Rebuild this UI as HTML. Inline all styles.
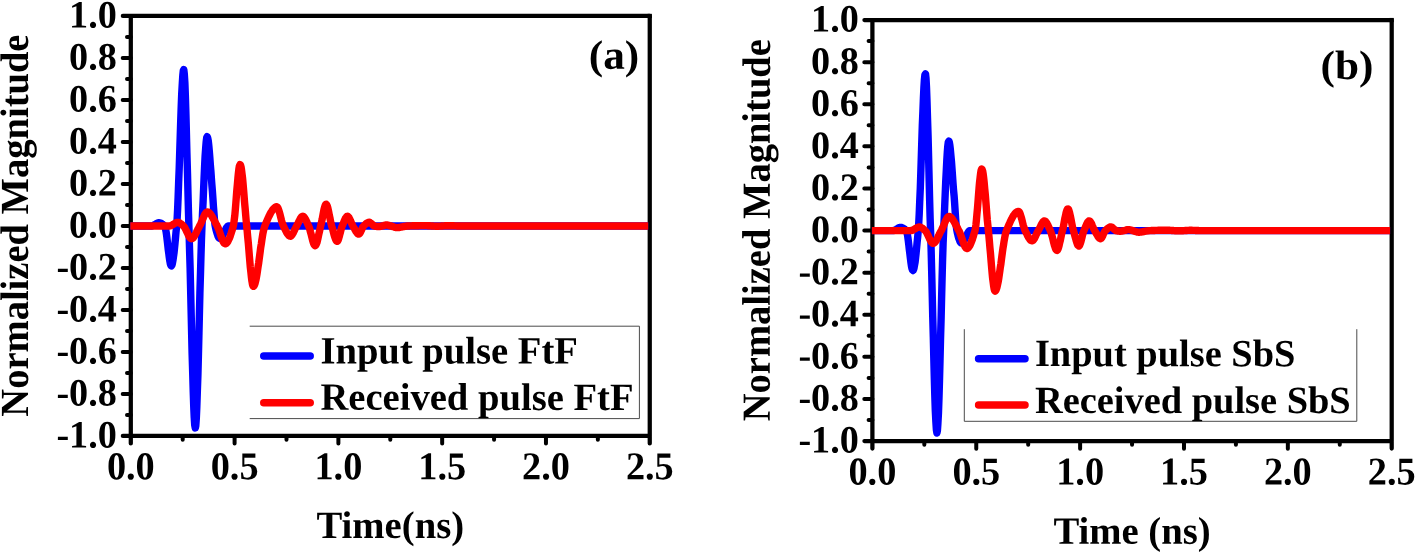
<!DOCTYPE html>
<html><head><meta charset="utf-8"><title>Pulse figure</title>
<style>html,body{margin:0;padding:0;background:#fff;}svg{display:block}</style></head>
<body>
<svg width="1416" height="555" viewBox="0 0 1416 555">
<rect width="1416" height="555" fill="#fff"/>
<path d="M130.8 15.95V443.375M122.82500000000002 435.9H649.75M122.82500000000002 15.95H649.75M649.75 15.95V443.375" stroke="#000" stroke-width="4.25" fill="none" stroke-linecap="round" stroke-linejoin="miter"/>
<rect x="647.625" y="13.825" width="4.25" height="4.25" fill="#000"/>
<path d="M122.70000000000002 57.94H130.8M122.70000000000002 99.94H130.8M122.70000000000002 141.93H130.8M122.70000000000002 183.93H130.8M122.70000000000002 225.92H130.8M122.70000000000002 267.92H130.8M122.70000000000002 309.92H130.8M122.70000000000002 351.91H130.8M122.70000000000002 393.90H130.8M127.00000000000001 36.95H130.8M127.00000000000001 78.94H130.8M127.00000000000001 120.94H130.8M127.00000000000001 162.93H130.8M127.00000000000001 204.93H130.8M127.00000000000001 246.92H130.8M127.00000000000001 288.92H130.8M127.00000000000001 330.91H130.8M127.00000000000001 372.91H130.8M127.00000000000001 414.90H130.8M234.59 435.9V443.5M338.38 435.9V443.5M442.17 435.9V443.5M545.96 435.9V443.5M182.70 435.9V439.7M286.49 435.9V439.7M390.28 435.9V439.7M494.07 435.9V439.7M597.86 435.9V439.7" stroke="#000" stroke-width="4.0" fill="none" stroke-linecap="round"/>
<text transform="translate(116.85 27.50) rotate(0.03) scale(1 1.015)" text-anchor="end" font-family="Liberation Serif, serif" font-weight="bold" font-size="38.2">1.0</text>
<text transform="translate(116.85 69.49) rotate(0.03) scale(1 1.015)" text-anchor="end" font-family="Liberation Serif, serif" font-weight="bold" font-size="38.2">0.8</text>
<text transform="translate(116.85 111.49) rotate(0.03) scale(1 1.015)" text-anchor="end" font-family="Liberation Serif, serif" font-weight="bold" font-size="38.2">0.6</text>
<text transform="translate(116.85 153.48) rotate(0.03) scale(1 1.015)" text-anchor="end" font-family="Liberation Serif, serif" font-weight="bold" font-size="38.2">0.4</text>
<text transform="translate(116.85 195.48) rotate(0.03) scale(1 1.015)" text-anchor="end" font-family="Liberation Serif, serif" font-weight="bold" font-size="38.2">0.2</text>
<text transform="translate(116.85 237.47) rotate(0.03) scale(1 1.015)" text-anchor="end" font-family="Liberation Serif, serif" font-weight="bold" font-size="38.2">0.0</text>
<text transform="translate(116.85 279.47) rotate(0.03) scale(1 1.015)" text-anchor="end" font-family="Liberation Serif, serif" font-weight="bold" font-size="38.2">-0.2</text>
<text transform="translate(116.85 321.47) rotate(0.03) scale(1 1.015)" text-anchor="end" font-family="Liberation Serif, serif" font-weight="bold" font-size="38.2">-0.4</text>
<text transform="translate(116.85 363.46) rotate(0.03) scale(1 1.015)" text-anchor="end" font-family="Liberation Serif, serif" font-weight="bold" font-size="38.2">-0.6</text>
<text transform="translate(116.85 405.45) rotate(0.03) scale(1 1.015)" text-anchor="end" font-family="Liberation Serif, serif" font-weight="bold" font-size="38.2">-0.8</text>
<text transform="translate(116.85 447.45) rotate(0.03) scale(1 1.015)" text-anchor="end" font-family="Liberation Serif, serif" font-weight="bold" font-size="38.2">-1.0</text>
<text transform="translate(130.8 479.3) rotate(0.03) scale(1 1.03)" text-anchor="middle" font-family="Liberation Serif, serif" font-weight="bold" font-size="38.3">0.0</text>
<text transform="translate(234.6 479.3) rotate(0.03) scale(1 1.03)" text-anchor="middle" font-family="Liberation Serif, serif" font-weight="bold" font-size="38.3">0.5</text>
<text transform="translate(338.4 479.3) rotate(0.03) scale(1 1.03)" text-anchor="middle" font-family="Liberation Serif, serif" font-weight="bold" font-size="38.3">1.0</text>
<text transform="translate(442.2 479.3) rotate(0.03) scale(1 1.03)" text-anchor="middle" font-family="Liberation Serif, serif" font-weight="bold" font-size="38.3">1.5</text>
<text transform="translate(546.0 479.3) rotate(0.03) scale(1 1.03)" text-anchor="middle" font-family="Liberation Serif, serif" font-weight="bold" font-size="38.3">2.0</text>
<text transform="translate(649.8 479.3) rotate(0.03) scale(1 1.03)" text-anchor="middle" font-family="Liberation Serif, serif" font-weight="bold" font-size="38.3">2.5</text>
<text transform="translate(390.3 538.0) rotate(0.03)" text-anchor="middle" font-family="Liberation Serif, serif" font-weight="bold" font-size="38.7">Time(ns)</text>
<text transform="translate(28 225.6) rotate(-89.97) scale(1 1.035)" text-anchor="middle" font-family="Liberation Serif, serif" font-weight="bold" font-size="38.55">Normalized Magnitude</text>
<text transform="translate(588.8 68.7) rotate(0.03) scale(1 0.945)" font-family="Liberation Serif, serif" font-weight="bold" font-size="43.3">(a)</text>
<path d="M249.7 326.2H639.4V418.6H249.7" fill="none" stroke="#4a4a4a" stroke-width="1"/>
<path d="M263.75 356.1H310.2" stroke="#0000ff" stroke-width="7.5" stroke-linecap="round"/>
<path d="M263.75 402.7H310.2" stroke="#ff0000" stroke-width="7.5" stroke-linecap="round"/>
<text transform="translate(320.4 363.5) rotate(0.03) scale(1 1.0)" font-family="Liberation Serif, serif" font-weight="bold" font-size="38.62">Input pulse FtF</text>
<text transform="translate(320.4 409.8) rotate(0.03) scale(1 1.0)" font-family="Liberation Serif, serif" font-weight="bold" font-size="38.62">Received pulse FtF</text>
<path d="M130.3 226.0L130.8 226.0L131.3 226.0L131.9 226.0L132.4 226.0L132.9 226.0L133.4 226.0L133.9 226.0L134.5 226.0L135.0 226.0L135.5 226.0L136.0 226.0L136.5 226.0L137.1 226.0L137.6 226.0L138.1 226.0L138.6 226.0L139.1 226.0L139.7 226.0L140.2 226.0L140.7 226.0L141.2 226.0L141.7 226.0L142.3 226.0L142.8 226.0L143.3 226.0L143.8 226.0L144.3 226.0L144.9 226.0L145.4 226.0L145.9 226.0L146.4 226.0L146.9 226.0L147.4 226.0L148.0 226.0L148.5 226.0L149.0 226.0L149.5 226.0L150.0 226.0L150.6 226.0L151.1 226.0L151.6 226.0L152.1 225.9L152.6 225.7L153.2 225.5L153.7 225.3L154.2 225.0L154.7 224.6L155.2 224.3L155.8 224.0L156.3 223.7L156.8 223.4L157.3 223.2L157.8 223.0L158.4 222.8L158.9 222.8L159.4 222.8L159.9 222.9L160.4 223.1L161.0 223.3L161.5 223.5L162.0 223.8L162.5 224.2L163.0 224.6L163.6 225.0L164.1 225.5L164.6 226.0L165.1 227.1L165.6 229.3L166.2 232.4L166.7 236.1L167.2 240.3L167.7 244.7L168.2 249.2L168.8 253.6L169.3 257.5L169.8 260.9L170.3 263.6L170.8 265.3L171.4 265.8L171.9 265.1L172.4 263.4L172.9 260.7L173.4 257.3L174.0 253.1L174.5 248.4L175.0 243.3L175.5 237.9L176.0 232.2L176.6 226.5L177.1 219.5L177.6 209.7L178.1 197.5L178.6 183.6L179.2 168.4L179.7 152.7L180.2 136.8L180.7 121.4L181.2 107.0L181.7 94.1L182.3 83.4L182.8 75.4L183.3 70.6L183.8 69.6L184.3 73.9L184.9 83.3L185.4 96.8L185.9 113.5L186.4 132.5L186.9 152.8L187.5 173.7L188.0 194.0L188.5 213.0L189.0 229.9L189.5 247.8L190.1 267.6L190.6 288.7L191.1 310.5L191.6 332.2L192.1 353.3L192.7 373.0L193.2 390.6L193.7 405.6L194.2 417.3L194.7 424.9L195.3 427.9L195.8 425.6L196.3 418.5L196.8 407.3L197.3 392.6L197.9 375.3L198.4 355.9L198.9 335.3L199.4 314.2L199.9 293.2L200.5 273.2L201.0 254.8L201.5 238.7L202.0 225.6L202.5 213.8L203.1 201.6L203.6 189.2L204.1 177.2L204.6 166.1L205.1 156.1L205.7 147.7L206.2 141.5L206.7 137.7L207.2 136.7L207.7 138.1L208.3 141.1L208.8 145.6L209.3 151.1L209.8 157.4L210.3 164.3L210.9 171.4L211.4 178.4L211.9 185.1L212.4 191.3L212.9 198.2L213.4 206.0L214.0 213.6L214.5 220.2L215.0 224.9L215.5 227.5L216.0 229.6L216.6 231.6L217.1 233.4L217.6 235.0L218.1 236.3L218.6 237.3L219.2 238.0L219.7 238.4L220.2 238.5L220.7 238.2L221.2 237.8L221.8 237.1L222.3 236.3L222.8 235.3L223.3 234.3L223.8 233.1L224.4 232.0L224.9 230.9L225.4 229.8L225.9 228.8L226.4 227.8L227.0 227.1L227.5 226.5L228.0 226.1L228.5 226.0L229.0 226.0L229.6 226.0L230.1 226.0L230.6 226.0L231.1 226.0L231.6 226.0L232.2 226.0L232.7 226.0L233.2 226.0L233.7 226.0L234.2 226.0L234.8 226.0L235.3 226.0L235.8 226.0L236.3 226.0L236.8 226.0L237.4 226.0L237.9 226.0L238.4 226.0L238.9 226.0L239.4 226.0L240.0 226.0L240.5 226.0L241.0 226.0L241.5 226.0L242.0 226.0L242.6 226.0L243.1 226.0L243.6 226.0L244.1 226.0L244.6 226.0L245.2 226.0L245.7 226.0L246.2 226.0L246.7 226.0L247.2 226.0L247.7 226.0L248.3 226.0L248.8 226.0L249.3 226.0L249.8 226.0L250.3 226.0L250.9 226.0L251.4 226.0L251.9 226.0L252.4 226.0L252.9 226.0L253.5 226.0L254.0 226.0L254.5 226.0L255.0 226.0L255.5 226.0L256.1 226.0L256.6 226.0L257.1 226.0L257.6 226.0L258.1 226.0L258.7 226.0L259.2 226.0L259.7 226.0L260.2 226.0L260.7 226.0L261.3 226.0L261.8 226.0L262.3 226.0L262.8 226.0L263.3 226.0L263.9 226.0L264.4 226.0L264.9 226.0L265.4 226.0L265.9 226.0L266.5 226.0L267.0 226.0L267.5 226.0L268.0 226.0L268.5 226.0L269.1 226.0L269.6 226.0L270.1 226.0L270.6 226.0L271.1 226.0L271.7 226.0L272.2 226.0L272.7 226.0L273.2 226.0L273.7 226.0L274.3 226.0L274.8 226.0L275.3 226.0L275.8 226.0L276.3 226.0L276.9 226.0L277.4 226.0L277.9 226.0L278.4 226.0L278.9 226.0L279.4 226.0L280.0 226.0L280.5 226.0L281.0 226.0L281.5 226.0L282.0 226.0L282.6 226.0L283.1 226.0L283.6 226.0L284.1 226.0L284.6 226.0L285.2 226.0L285.7 226.0L286.2 226.0L286.7 226.0L287.2 226.0L287.8 226.0L288.3 226.0L288.8 226.0L289.3 226.0L289.8 226.0L290.4 226.0L290.9 226.0L291.4 226.0L291.9 226.0L292.4 226.0L293.0 226.0L293.5 226.0L294.0 226.0L294.5 226.0L295.0 226.0L295.6 226.0L296.1 226.0L296.6 226.0L297.1 226.0L297.6 226.0L298.2 226.0L298.7 226.0L299.2 226.0L299.7 226.0L300.2 226.0L300.8 226.0L301.3 226.0L301.8 226.0L302.3 226.0L302.8 226.0L303.4 226.0L303.9 226.0L304.4 226.0L304.9 226.0L305.4 226.0L306.0 226.0L306.5 226.0L307.0 226.0L307.5 226.0L308.0 226.0L308.6 226.0L309.1 226.0L309.6 226.0L310.1 226.0L310.6 226.0L311.2 226.0L311.7 226.0L312.2 226.0L312.7 226.0L313.2 226.0L313.7 226.0L314.3 226.0L314.8 226.0L315.3 226.0L315.8 226.0L316.3 226.0L316.9 226.0L317.4 226.0L317.9 226.0L318.4 226.0L318.9 226.0L319.5 226.0L320.0 226.0L320.5 226.0L321.0 226.0L321.5 226.0L322.1 226.0L322.6 226.0L323.1 226.0L323.6 226.0L324.1 226.0L324.7 226.0L325.2 226.0L325.7 226.0L326.2 226.0L326.7 226.0L327.3 226.0L327.8 226.0L328.3 226.0L328.8 226.0L329.3 226.0L329.9 226.0L330.4 226.0L330.9 226.0L331.4 226.0L331.9 226.0L332.5 226.0L333.0 226.0L333.5 226.0L334.0 226.0L334.5 226.0L335.1 226.0L335.6 226.0L336.1 226.0L336.6 226.0L337.1 226.0L337.7 226.0L338.2 226.0L338.7 226.0L339.2 226.0L339.7 226.0L340.3 226.0L340.8 226.0L341.3 226.0L341.8 226.0L342.3 226.0L342.9 226.0L343.4 226.0L343.9 226.0L344.4 226.0L344.9 226.0L345.4 226.0L346.0 226.0L346.5 226.0L347.0 226.0L347.5 226.0L348.0 226.0L348.6 226.0L349.1 226.0L349.6 226.0L350.1 226.0L350.6 226.0L351.2 226.0L351.7 226.0L352.2 226.0L352.7 226.0L353.2 226.0L353.8 226.0L354.3 226.0L354.8 226.0L355.3 226.0L355.8 226.0L356.4 226.0L356.9 226.0L357.4 226.0L357.9 226.0L358.4 226.0L359.0 226.0L359.5 226.0L360.0 226.0L360.5 226.0L361.0 226.0L361.6 226.0L362.1 226.0L362.6 226.0L363.1 226.0L363.6 226.0L364.2 226.0L364.7 226.0L365.2 226.0L365.7 226.0L366.2 226.0L366.8 226.0L367.3 226.0L367.8 226.0L368.3 226.0L368.8 226.0L369.4 226.0L369.9 226.0L370.4 226.0L370.9 226.0L371.4 226.0L372.0 226.0L372.5 226.0L373.0 226.0L373.5 226.0L374.0 226.0L374.6 226.0L375.1 226.0L375.6 226.0L376.1 226.0L376.6 226.0L377.2 226.0L377.7 226.0L378.2 226.0L378.7 226.0L379.2 226.0L379.7 226.0L380.3 226.0L380.8 226.0L381.3 226.0L381.8 226.0L382.3 226.0L382.9 226.0L383.4 226.0L383.9 226.0L384.4 226.0L384.9 226.0L385.5 226.0L386.0 226.0L386.5 226.0L387.0 226.0L387.5 226.0L388.1 226.0L388.6 226.0L389.1 226.0L389.6 226.0L390.1 226.0L390.7 226.0L391.2 226.0L391.7 226.0L392.2 226.0L392.7 226.0L393.3 226.0L393.8 226.0L394.3 226.0L394.8 226.0L395.3 226.0L395.9 226.0L396.4 226.0L396.9 226.0L397.4 226.0L397.9 226.0L398.5 226.0L399.0 226.0L399.5 226.0L400.0 226.0L400.5 226.0L401.1 226.0L401.6 226.0L402.1 226.0L402.6 226.0L403.1 226.0L403.7 226.0L404.2 226.0L404.7 226.0L405.2 226.0L405.7 226.0L406.3 226.0L406.8 226.0L407.3 226.0L407.8 226.0L408.3 226.0L408.9 226.0L409.4 226.0L409.9 226.0L410.4 226.0L410.9 226.0L411.4 226.0L412.0 226.0L412.5 226.0L413.0 226.0L413.5 226.0L414.0 226.0L414.6 226.0L415.1 226.0L415.6 226.0L416.1 226.0L416.6 226.0L417.2 226.0L417.7 226.0L418.2 226.0L418.7 226.0L419.2 226.0L419.8 226.0L420.3 226.0L420.8 226.0L421.3 226.0L421.8 226.0L422.4 226.0L422.9 226.0L423.4 226.0L423.9 226.0L424.4 226.0L425.0 226.0L425.5 226.0L426.0 226.0L426.5 226.0L427.0 226.0L427.6 226.0L428.1 226.0L428.6 226.0L429.1 226.0L429.6 226.0L430.2 226.0L430.7 226.0L431.2 226.0L431.7 226.0L432.2 226.0L432.8 226.0L433.3 226.0L433.8 226.0L434.3 226.0L434.8 226.0L435.4 226.0L435.9 226.0L436.4 226.0L436.9 226.0L437.4 226.0L438.0 226.0L438.5 226.0L439.0 226.0L439.5 226.0L440.0 226.0L440.6 226.0L441.1 226.0L441.6 226.0L442.1 226.0L442.6 226.0L443.2 226.0L443.7 226.0L444.2 226.0L444.7 226.0L445.2 226.0L445.7 226.0L446.3 226.0L446.8 226.0L447.3 226.0L447.8 226.0L448.3 226.0L448.9 226.0L449.4 226.0L449.9 226.0L450.4 226.0L450.9 226.0L451.5 226.0L452.0 226.0L452.5 226.0L453.0 226.0L453.5 226.0L454.1 226.0L454.6 226.0L455.1 226.0L455.6 226.0L456.1 226.0L456.7 226.0L457.2 226.0L457.7 226.0L458.2 226.0L458.7 226.0L459.3 226.0L459.8 226.0L460.3 226.0L460.8 226.0L461.3 226.0L461.9 226.0L462.4 226.0L462.9 226.0L463.4 226.0L463.9 226.0L464.5 226.0L465.0 226.0L465.5 226.0L466.0 226.0L466.5 226.0L467.1 226.0L467.6 226.0L468.1 226.0L468.6 226.0L469.1 226.0L469.7 226.0L470.2 226.0L470.7 226.0L471.2 226.0L471.7 226.0L472.3 226.0L472.8 226.0L473.3 226.0L473.8 226.0L474.3 226.0L474.9 226.0L475.4 226.0L475.9 226.0L476.4 226.0L476.9 226.0L477.4 226.0L478.0 226.0L478.5 226.0L479.0 226.0L479.5 226.0L480.0 226.0L480.6 226.0L481.1 226.0L481.6 226.0L482.1 226.0L482.6 226.0L483.2 226.0L483.7 226.0L648.2 226.0" fill="none" stroke="#0000ff" stroke-width="7.4" stroke-linejoin="round" stroke-linecap="butt"/>
<path d="M130.3 226.0L130.8 226.0L131.3 226.0L131.9 226.0L132.4 226.0L132.9 226.0L133.4 226.0L133.9 226.0L134.5 226.0L135.0 226.0L135.5 226.0L136.0 226.0L136.5 226.0L137.1 226.0L137.6 226.0L138.1 226.0L138.6 226.0L139.1 226.0L139.7 226.0L140.2 226.0L140.7 226.0L141.2 226.0L141.7 226.0L142.3 226.0L142.8 226.0L143.3 226.0L143.8 226.0L144.3 226.0L144.9 226.0L145.4 226.0L145.9 226.0L146.4 226.0L146.9 226.0L147.4 226.0L148.0 226.0L148.5 226.0L149.0 226.0L149.5 226.0L150.0 226.0L150.6 226.0L151.1 226.0L151.6 226.0L152.1 226.0L152.6 226.0L153.2 226.0L153.7 226.0L154.2 226.0L154.7 226.0L155.2 226.0L155.8 226.0L156.3 226.0L156.8 226.0L157.3 226.0L157.8 226.0L158.4 226.0L158.9 226.0L159.4 226.0L159.9 226.0L160.4 226.0L161.0 226.0L161.5 226.0L162.0 226.0L162.5 226.0L163.0 226.0L163.6 226.0L164.1 226.0L164.6 226.0L165.1 226.0L165.6 226.0L166.2 226.0L166.7 226.0L167.2 226.0L167.7 226.0L168.2 226.0L168.8 226.0L169.3 226.0L169.8 225.9L170.3 225.8L170.8 225.6L171.4 225.4L171.9 225.1L172.4 224.8L172.9 224.5L173.4 224.2L174.0 223.9L174.5 223.6L175.0 223.3L175.5 223.0L176.0 222.8L176.6 222.6L177.1 222.5L177.6 222.4L178.1 222.4L178.6 222.5L179.2 222.7L179.7 222.9L180.2 223.3L180.7 223.6L181.2 224.0L181.7 224.4L182.3 224.9L182.8 225.4L183.3 225.8L183.8 226.3L184.3 227.0L184.9 227.8L185.4 228.8L185.9 229.8L186.4 230.9L186.9 232.0L187.5 233.2L188.0 234.3L188.5 235.3L189.0 236.3L189.5 237.1L190.1 237.8L190.6 238.3L191.1 238.6L191.6 238.7L192.1 238.6L192.7 238.2L193.2 237.8L193.7 237.1L194.2 236.4L194.7 235.5L195.3 234.6L195.8 233.6L196.3 232.6L196.8 231.5L197.3 230.4L197.9 229.3L198.4 228.3L198.9 227.3L199.4 226.3L199.9 225.4L200.5 224.4L201.0 223.2L201.5 222.0L202.0 220.8L202.5 219.5L203.1 218.3L203.6 217.0L204.1 215.9L204.6 214.8L205.1 213.9L205.7 213.1L206.2 212.5L206.7 212.1L207.2 211.9L207.7 211.9L208.3 212.1L208.8 212.4L209.3 212.8L209.8 213.3L210.3 213.9L210.9 214.6L211.4 215.4L211.9 216.2L212.4 217.1L212.9 218.0L213.4 218.9L214.0 219.9L214.5 220.9L215.0 221.9L215.5 222.9L216.0 223.9L216.6 224.9L217.1 225.8L217.6 226.8L218.1 227.9L218.6 229.2L219.2 230.7L219.7 232.2L220.2 233.7L220.7 235.3L221.2 236.8L221.8 238.2L222.3 239.6L222.8 240.8L223.3 241.9L223.8 242.8L224.4 243.4L224.9 243.7L225.4 243.8L225.9 243.6L226.4 243.3L227.0 242.7L227.5 242.0L228.0 241.2L228.5 240.2L229.0 239.0L229.6 237.8L230.1 236.4L230.6 234.9L231.1 233.4L231.6 231.7L232.2 230.0L232.7 228.2L233.2 226.4L233.7 224.0L234.2 220.3L234.8 215.5L235.3 209.9L235.8 203.7L236.3 197.1L236.8 190.5L237.4 184.2L237.9 178.3L238.4 173.1L238.9 168.9L239.4 166.0L240.0 164.7L240.5 165.0L241.0 166.7L241.5 169.7L242.0 173.6L242.6 178.5L243.1 184.0L243.6 190.0L244.1 196.3L244.6 202.8L245.2 209.1L245.7 215.3L246.2 221.0L246.7 226.1L247.2 231.2L247.7 236.8L248.3 242.8L248.8 249.0L249.3 255.2L249.8 261.3L250.3 267.1L250.9 272.4L251.4 277.1L251.9 281.0L252.4 284.0L252.9 285.8L253.5 286.3L254.0 285.9L254.5 284.9L255.0 283.5L255.5 281.5L256.1 279.1L256.6 276.4L257.1 273.3L257.6 270.0L258.1 266.5L258.7 262.8L259.2 259.1L259.7 255.2L260.2 251.4L260.7 247.6L261.3 244.0L261.8 240.5L262.3 237.2L262.8 234.2L263.3 231.5L263.9 229.1L264.4 227.2L264.9 225.8L265.4 224.5L265.9 223.2L266.5 222.0L267.0 220.7L267.5 219.5L268.0 218.3L268.5 217.2L269.1 216.1L269.6 215.0L270.1 214.0L270.6 213.0L271.1 212.1L271.7 211.3L272.2 210.5L272.7 209.7L273.2 209.1L273.7 208.5L274.3 208.0L274.8 207.6L275.3 207.2L275.8 207.0L276.3 206.8L276.9 206.8L277.4 207.1L277.9 207.9L278.4 209.1L278.9 210.6L279.4 212.3L280.0 214.3L280.5 216.3L281.0 218.4L281.5 220.4L282.0 222.2L282.6 223.9L283.1 225.3L283.6 226.4L284.1 227.5L284.6 228.5L285.2 229.6L285.7 230.6L286.2 231.6L286.7 232.6L287.2 233.5L287.8 234.2L288.3 234.9L288.8 235.5L289.3 235.9L289.8 236.1L290.4 236.2L290.9 236.0L291.4 235.6L291.9 235.0L292.4 234.2L293.0 233.3L293.5 232.3L294.0 231.2L294.5 230.1L295.0 229.0L295.6 227.9L296.1 226.9L296.6 226.0L297.1 225.1L297.6 224.1L298.2 223.0L298.7 221.9L299.2 220.8L299.7 219.8L300.2 218.8L300.8 217.9L301.3 217.2L301.8 216.7L302.3 216.4L302.8 216.3L303.4 216.5L303.9 216.9L304.4 217.5L304.9 218.3L305.4 219.2L306.0 220.2L306.5 221.3L307.0 222.4L307.5 223.6L308.0 224.8L308.6 225.9L309.1 227.1L309.6 228.7L310.1 230.5L310.6 232.5L311.2 234.6L311.7 236.7L312.2 238.7L312.7 240.6L313.2 242.3L313.7 243.8L314.3 244.9L314.8 245.5L315.3 245.7L315.8 245.2L316.3 244.2L316.9 242.7L317.4 240.8L317.9 238.6L318.4 236.3L318.9 233.8L319.5 231.3L320.0 229.0L320.5 226.8L321.0 224.7L321.5 222.3L322.1 219.7L322.6 216.9L323.1 214.1L323.6 211.5L324.1 209.1L324.7 207.0L325.2 205.5L325.7 204.5L326.2 204.3L326.7 204.9L327.3 206.1L327.8 207.8L328.3 210.0L328.8 212.5L329.3 215.1L329.9 217.8L330.4 220.4L330.9 222.9L331.4 225.0L331.9 226.8L332.5 228.6L333.0 230.6L333.5 232.6L334.0 234.5L334.5 236.3L335.1 238.0L335.6 239.3L336.1 240.4L336.6 241.1L337.1 241.3L337.7 240.9L338.2 240.0L338.7 238.5L339.2 236.8L339.7 234.8L340.3 232.7L340.8 230.6L341.3 228.7L341.8 227.0L342.3 225.7L342.9 224.5L343.4 223.2L343.9 221.9L344.4 220.6L344.9 219.5L345.4 218.4L346.0 217.5L346.5 216.9L347.0 216.4L347.5 216.3L348.0 216.5L348.6 217.0L349.1 217.8L349.6 218.8L350.1 219.9L350.6 221.1L351.2 222.4L351.7 223.6L352.2 224.7L352.7 225.7L353.2 226.6L353.8 227.5L354.3 228.4L354.8 229.3L355.3 230.3L355.8 231.2L356.4 232.0L356.9 232.7L357.4 233.3L357.9 233.8L358.4 234.0L359.0 234.1L359.5 233.7L360.0 233.1L360.5 232.1L361.0 231.0L361.6 229.8L362.1 228.6L362.6 227.5L363.1 226.6L363.6 226.0L364.2 225.5L364.7 225.0L365.2 224.5L365.7 224.0L366.2 223.6L366.8 223.2L367.3 222.9L367.8 222.6L368.3 222.4L368.8 222.3L369.4 222.3L369.9 222.5L370.4 222.8L370.9 223.2L371.4 223.6L372.0 224.1L372.5 224.6L373.0 225.1L373.5 225.5L374.0 225.8L374.6 226.0L375.1 226.1L375.6 226.3L376.1 226.4L376.6 226.4L377.2 226.5L377.7 226.6L378.2 226.6L378.7 226.6L379.2 226.5L379.7 226.5L380.3 226.4L380.8 226.3L381.3 226.1L381.8 226.0L382.3 225.9L382.9 225.8L383.4 225.6L383.9 225.5L384.4 225.3L384.9 225.2L385.5 225.1L386.0 225.0L386.5 225.0L387.0 225.0L387.5 225.1L388.1 225.2L388.6 225.3L389.1 225.5L389.6 225.6L390.1 225.8L390.7 225.9L391.2 226.0L391.7 226.2L392.2 226.4L392.7 226.6L393.3 226.7L393.8 226.9L394.3 227.1L394.8 227.3L395.3 227.4L395.9 227.5L396.4 227.6L396.9 227.6L397.4 227.6L397.9 227.6L398.5 227.5L399.0 227.5L399.5 227.4L400.0 227.3L400.5 227.2L401.1 227.1L401.6 227.0L402.1 226.9L402.6 226.8L403.1 226.7L403.7 226.6L404.2 226.5L404.7 226.4L405.2 226.3L405.7 226.2L406.3 226.2L406.8 226.1L407.3 226.0L407.8 226.0L408.3 226.0L408.9 226.0L409.4 225.9L409.9 225.9L410.4 225.9L410.9 225.9L411.4 225.9L412.0 225.8L412.5 225.8L413.0 225.8L413.5 225.8L414.0 225.8L414.6 225.8L415.1 225.7L415.6 225.7L416.1 225.7L416.6 225.7L417.2 225.7L417.7 225.7L418.2 225.7L418.7 225.7L419.2 225.7L419.8 225.6L420.3 225.6L420.8 225.6L421.3 225.6L421.8 225.6L422.4 225.6L422.9 225.6L423.4 225.6L423.9 225.6L424.4 225.6L425.0 225.6L425.5 225.6L426.0 225.6L426.5 225.6L427.0 225.6L427.6 225.7L428.1 225.7L428.6 225.7L429.1 225.8L429.6 225.8L430.2 225.8L430.7 225.9L431.2 225.9L431.7 226.0L432.2 226.0L432.8 226.0L433.3 226.1L433.8 226.1L434.3 226.1L434.8 226.1L435.4 226.2L435.9 226.2L436.4 226.2L436.9 226.2L437.4 226.2L438.0 226.2L438.5 226.2L439.0 226.2L439.5 226.1L440.0 226.1L440.6 226.1L441.1 226.1L441.6 226.0L442.1 226.0L442.6 226.0L443.2 225.9L443.7 225.9L444.2 225.9L444.7 225.8L445.2 225.8L445.7 225.8L446.3 225.8L446.8 225.7L447.3 225.7L447.8 225.7L448.3 225.7L448.9 225.7L449.4 225.7L449.9 225.7L450.4 225.7L450.9 225.7L451.5 225.7L452.0 225.8L452.5 225.8L453.0 225.8L453.5 225.8L454.1 225.8L454.6 225.9L455.1 225.9L455.6 225.9L456.1 225.9L456.7 225.9L457.2 226.0L457.7 226.0L458.2 226.0L458.7 226.0L459.3 226.0L459.8 226.0L460.3 226.0L460.8 226.0L461.3 226.0L461.9 226.0L462.4 226.0L462.9 226.0L463.4 226.0L463.9 226.0L464.5 226.0L465.0 226.0L465.5 226.0L466.0 226.0L466.5 226.0L467.1 226.0L467.6 226.0L468.1 226.0L468.6 226.0L469.1 226.0L469.7 226.0L470.2 226.0L470.7 226.0L471.2 226.0L471.7 226.0L472.3 226.0L472.8 226.0L473.3 226.0L473.8 226.0L474.3 226.0L474.9 226.0L475.4 226.0L475.9 226.0L476.4 226.0L476.9 226.0L477.4 226.0L478.0 226.0L478.5 226.0L479.0 226.0L479.5 226.0L480.0 226.0L480.6 226.0L481.1 226.0L481.6 226.0L482.1 226.0L482.6 226.0L483.2 226.0L483.7 226.0L648.2 226.0" fill="none" stroke="#ff0000" stroke-width="7.4" stroke-linejoin="round" stroke-linecap="butt"/>
<path d="M872.4 20.05V448.52500000000003M864.425 441.05H1391.7M864.425 20.05H1391.7M1391.7 20.05V448.52500000000003" stroke="#000" stroke-width="4.25" fill="none" stroke-linecap="round" stroke-linejoin="miter"/>
<rect x="1389.575" y="17.925" width="4.25" height="4.25" fill="#000"/>
<path d="M864.3 62.15H872.4M864.3 104.25H872.4M864.3 146.35H872.4M864.3 188.45H872.4M864.3 230.55H872.4M864.3 272.65H872.4M864.3 314.75H872.4M864.3 356.85H872.4M864.3 398.95H872.4M868.6 41.10H872.4M868.6 83.20H872.4M868.6 125.30H872.4M868.6 167.40H872.4M868.6 209.50H872.4M868.6 251.60H872.4M868.6 293.70H872.4M868.6 335.80H872.4M868.6 377.90H872.4M868.6 420.00H872.4M976.26 441.05V448.65000000000003M1080.12 441.05V448.65000000000003M1183.98 441.05V448.65000000000003M1287.84 441.05V448.65000000000003M924.33 441.05V444.85M1028.19 441.05V444.85M1132.05 441.05V444.85M1235.91 441.05V444.85M1339.77 441.05V444.85" stroke="#000" stroke-width="4.0" fill="none" stroke-linecap="round"/>
<text transform="translate(858.85 31.60) rotate(0.03) scale(1 1.015)" text-anchor="end" font-family="Liberation Serif, serif" font-weight="bold" font-size="38.2">1.0</text>
<text transform="translate(858.85 73.70) rotate(0.03) scale(1 1.015)" text-anchor="end" font-family="Liberation Serif, serif" font-weight="bold" font-size="38.2">0.8</text>
<text transform="translate(858.85 115.80) rotate(0.03) scale(1 1.015)" text-anchor="end" font-family="Liberation Serif, serif" font-weight="bold" font-size="38.2">0.6</text>
<text transform="translate(858.85 157.90) rotate(0.03) scale(1 1.015)" text-anchor="end" font-family="Liberation Serif, serif" font-weight="bold" font-size="38.2">0.4</text>
<text transform="translate(858.85 200.00) rotate(0.03) scale(1 1.015)" text-anchor="end" font-family="Liberation Serif, serif" font-weight="bold" font-size="38.2">0.2</text>
<text transform="translate(858.85 242.10) rotate(0.03) scale(1 1.015)" text-anchor="end" font-family="Liberation Serif, serif" font-weight="bold" font-size="38.2">0.0</text>
<text transform="translate(858.85 284.20) rotate(0.03) scale(1 1.015)" text-anchor="end" font-family="Liberation Serif, serif" font-weight="bold" font-size="38.2">-0.2</text>
<text transform="translate(858.85 326.30) rotate(0.03) scale(1 1.015)" text-anchor="end" font-family="Liberation Serif, serif" font-weight="bold" font-size="38.2">-0.4</text>
<text transform="translate(858.85 368.40) rotate(0.03) scale(1 1.015)" text-anchor="end" font-family="Liberation Serif, serif" font-weight="bold" font-size="38.2">-0.6</text>
<text transform="translate(858.85 410.50) rotate(0.03) scale(1 1.015)" text-anchor="end" font-family="Liberation Serif, serif" font-weight="bold" font-size="38.2">-0.8</text>
<text transform="translate(858.85 452.60) rotate(0.03) scale(1 1.015)" text-anchor="end" font-family="Liberation Serif, serif" font-weight="bold" font-size="38.2">-1.0</text>
<text transform="translate(872.4 484.6) rotate(0.03) scale(1 1.03)" text-anchor="middle" font-family="Liberation Serif, serif" font-weight="bold" font-size="38.3">0.0</text>
<text transform="translate(976.3 484.6) rotate(0.03) scale(1 1.03)" text-anchor="middle" font-family="Liberation Serif, serif" font-weight="bold" font-size="38.3">0.5</text>
<text transform="translate(1080.1 484.6) rotate(0.03) scale(1 1.03)" text-anchor="middle" font-family="Liberation Serif, serif" font-weight="bold" font-size="38.3">1.0</text>
<text transform="translate(1184.0 484.6) rotate(0.03) scale(1 1.03)" text-anchor="middle" font-family="Liberation Serif, serif" font-weight="bold" font-size="38.3">1.5</text>
<text transform="translate(1287.8 484.6) rotate(0.03) scale(1 1.03)" text-anchor="middle" font-family="Liberation Serif, serif" font-weight="bold" font-size="38.3">2.0</text>
<text transform="translate(1391.7 484.6) rotate(0.03) scale(1 1.03)" text-anchor="middle" font-family="Liberation Serif, serif" font-weight="bold" font-size="38.3">2.5</text>
<text transform="translate(1132.0 543.8) rotate(0.03)" text-anchor="middle" font-family="Liberation Serif, serif" font-weight="bold" font-size="38.7">Time (ns)</text>
<text transform="translate(769.8 230.2) rotate(-89.97) scale(1 1.035)" text-anchor="middle" font-family="Liberation Serif, serif" font-weight="bold" font-size="38.55">Normalized Magnitude</text>
<text transform="translate(1320.5 78.9) rotate(0.03) scale(1 0.945)" font-family="Liberation Serif, serif" font-weight="bold" font-size="43.3">(b)</text>
<path d="M964.3 329.2V421.3H1356.8V329.2" fill="none" stroke="#4a4a4a" stroke-width="1"/>
<path d="M978.6 358.8H1025" stroke="#0000ff" stroke-width="7.5" stroke-linecap="round"/>
<path d="M978.6 404.9H1025" stroke="#ff0000" stroke-width="7.5" stroke-linecap="round"/>
<text transform="translate(1034.9 366.1) rotate(0.03) scale(1 1.0)" font-family="Liberation Serif, serif" font-weight="bold" font-size="38.42">Input pulse SbS</text>
<text transform="translate(1034.9 412.9) rotate(0.03) scale(1 1.0)" font-family="Liberation Serif, serif" font-weight="bold" font-size="38.42">Received pulse SbS</text>
<path d="M871.9 230.6L872.4 230.6L872.9 230.6L873.5 230.6L874.0 230.6L874.5 230.6L875.0 230.6L875.5 230.6L876.1 230.6L876.6 230.6L877.1 230.6L877.6 230.6L878.1 230.6L878.7 230.6L879.2 230.6L879.7 230.6L880.2 230.6L880.7 230.6L881.3 230.6L881.8 230.6L882.3 230.6L882.8 230.6L883.3 230.6L883.9 230.6L884.4 230.6L884.9 230.6L885.4 230.6L885.9 230.6L886.5 230.6L887.0 230.6L887.5 230.6L888.0 230.6L888.5 230.6L889.1 230.6L889.6 230.6L890.1 230.6L890.6 230.6L891.1 230.6L891.7 230.6L892.2 230.6L892.7 230.6L893.2 230.6L893.7 230.5L894.3 230.4L894.8 230.1L895.3 229.9L895.8 229.6L896.3 229.3L896.9 228.9L897.4 228.6L897.9 228.3L898.4 228.0L898.9 227.8L899.5 227.6L900.0 227.5L900.5 227.4L901.0 227.4L901.5 227.5L902.1 227.7L902.6 227.9L903.1 228.2L903.6 228.5L904.1 228.8L904.7 229.2L905.2 229.6L905.7 230.1L906.2 230.6L906.7 231.8L907.3 234.0L907.8 237.0L908.3 240.8L908.8 244.9L909.3 249.4L909.9 253.9L910.4 258.2L910.9 262.2L911.4 265.7L911.9 268.3L912.5 270.0L913.0 270.5L913.5 269.8L914.0 268.1L914.5 265.4L915.1 262.0L915.6 257.8L916.1 253.1L916.6 248.0L917.1 242.5L917.7 236.9L918.2 231.2L918.7 224.1L919.2 214.2L919.7 202.0L920.3 188.1L920.8 172.9L921.3 157.1L921.8 141.2L922.3 125.7L922.9 111.3L923.4 98.4L923.9 87.7L924.4 79.6L924.9 74.8L925.5 73.8L926.0 78.1L926.5 87.5L927.0 101.1L927.5 117.8L928.1 136.8L928.6 157.3L929.1 178.2L929.6 198.6L930.1 217.6L930.7 234.5L931.2 252.4L931.7 272.3L932.2 293.5L932.7 315.3L933.3 337.1L933.8 358.2L934.3 378.0L934.8 395.7L935.3 410.7L935.9 422.4L936.4 430.0L936.9 433.0L937.4 430.8L937.9 423.6L938.5 412.4L939.0 397.7L939.5 380.3L940.0 360.9L940.5 340.2L941.1 319.0L941.6 298.0L942.1 277.9L942.6 259.4L943.1 243.3L943.7 230.3L944.2 218.4L944.7 206.1L945.2 193.8L945.7 181.8L946.3 170.5L946.8 160.5L947.3 152.2L947.8 145.9L948.3 142.1L948.9 141.1L949.4 142.5L949.9 145.6L950.4 150.0L950.9 155.5L951.5 161.9L952.0 168.7L952.5 175.8L953.0 182.9L953.5 189.6L954.1 195.8L954.6 202.8L955.1 210.6L955.6 218.2L956.1 224.8L956.7 229.5L957.2 232.1L957.7 234.3L958.2 236.3L958.7 238.1L959.3 239.6L959.8 241.0L960.3 242.0L960.8 242.7L961.3 243.1L961.9 243.1L962.4 242.9L962.9 242.4L963.4 241.8L963.9 240.9L964.5 240.0L965.0 238.9L965.5 237.8L966.0 236.6L966.5 235.5L967.1 234.4L967.6 233.4L968.1 232.5L968.6 231.7L969.1 231.1L969.7 230.7L970.2 230.6L970.7 230.6L971.2 230.6L971.7 230.6L972.3 230.6L972.8 230.6L973.3 230.6L973.8 230.6L974.3 230.6L974.9 230.6L975.4 230.6L975.9 230.6L976.4 230.6L976.9 230.6L977.5 230.6L978.0 230.6L978.5 230.6L979.0 230.6L979.5 230.6L980.1 230.6L980.6 230.6L981.1 230.6L981.6 230.6L982.1 230.6L982.7 230.6L983.2 230.6L983.7 230.6L984.2 230.6L984.7 230.6L985.3 230.6L985.8 230.6L986.3 230.6L986.8 230.6L987.3 230.6L987.9 230.6L988.4 230.6L988.9 230.6L989.4 230.6L989.9 230.6L990.5 230.6L991.0 230.6L991.5 230.6L992.0 230.6L992.5 230.6L993.1 230.6L993.6 230.6L994.1 230.6L994.6 230.6L995.1 230.6L995.7 230.6L996.2 230.6L996.7 230.6L997.2 230.6L997.7 230.6L998.3 230.6L998.8 230.6L999.3 230.6L999.8 230.6L1000.3 230.6L1000.9 230.6L1001.4 230.6L1001.9 230.6L1002.4 230.6L1002.9 230.6L1003.5 230.6L1004.0 230.6L1004.5 230.6L1005.0 230.6L1005.5 230.6L1006.1 230.6L1006.6 230.6L1007.1 230.6L1007.6 230.6L1008.1 230.6L1008.7 230.6L1009.2 230.6L1009.7 230.6L1010.2 230.6L1010.7 230.6L1011.3 230.6L1011.8 230.6L1012.3 230.6L1012.8 230.6L1013.3 230.6L1013.9 230.6L1014.4 230.6L1014.9 230.6L1015.4 230.6L1015.9 230.6L1016.5 230.6L1017.0 230.6L1017.5 230.6L1018.0 230.6L1018.5 230.6L1019.1 230.6L1019.6 230.6L1020.1 230.6L1020.6 230.6L1021.1 230.6L1021.7 230.6L1022.2 230.6L1022.7 230.6L1023.2 230.6L1023.8 230.6L1024.3 230.6L1024.8 230.6L1025.3 230.6L1025.8 230.6L1026.4 230.6L1026.9 230.6L1027.4 230.6L1027.9 230.6L1028.4 230.6L1029.0 230.6L1029.5 230.6L1030.0 230.6L1030.5 230.6L1031.0 230.6L1031.6 230.6L1032.1 230.6L1032.6 230.6L1033.1 230.6L1033.6 230.6L1034.2 230.6L1034.7 230.6L1035.2 230.6L1035.7 230.6L1036.2 230.6L1036.8 230.6L1037.3 230.6L1037.8 230.6L1038.3 230.6L1038.8 230.6L1039.4 230.6L1039.9 230.6L1040.4 230.6L1040.9 230.6L1041.4 230.6L1042.0 230.6L1042.5 230.6L1043.0 230.6L1043.5 230.6L1044.0 230.6L1044.6 230.6L1045.1 230.6L1045.6 230.6L1046.1 230.6L1046.6 230.6L1047.2 230.6L1047.7 230.6L1048.2 230.6L1048.7 230.6L1049.2 230.6L1049.8 230.6L1050.3 230.6L1050.8 230.6L1051.3 230.6L1051.8 230.6L1052.4 230.6L1052.9 230.6L1053.4 230.6L1053.9 230.6L1054.4 230.6L1055.0 230.6L1055.5 230.6L1056.0 230.6L1056.5 230.6L1057.0 230.6L1057.6 230.6L1058.1 230.6L1058.6 230.6L1059.1 230.6L1059.6 230.6L1060.2 230.6L1060.7 230.6L1061.2 230.6L1061.7 230.6L1062.2 230.6L1062.8 230.6L1063.3 230.6L1063.8 230.6L1064.3 230.6L1064.8 230.6L1065.4 230.6L1065.9 230.6L1066.4 230.6L1066.9 230.6L1067.4 230.6L1068.0 230.6L1068.5 230.6L1069.0 230.6L1069.5 230.6L1070.0 230.6L1070.6 230.6L1071.1 230.6L1071.6 230.6L1072.1 230.6L1072.6 230.6L1073.2 230.6L1073.7 230.6L1074.2 230.6L1074.7 230.6L1075.2 230.6L1075.8 230.6L1076.3 230.6L1076.8 230.6L1077.3 230.6L1077.8 230.6L1078.4 230.6L1078.9 230.6L1079.4 230.6L1079.9 230.6L1080.4 230.6L1081.0 230.6L1081.5 230.6L1082.0 230.6L1082.5 230.6L1083.0 230.6L1083.6 230.6L1084.1 230.6L1084.6 230.6L1085.1 230.6L1085.6 230.6L1086.2 230.6L1086.7 230.6L1087.2 230.6L1087.7 230.6L1088.2 230.6L1088.8 230.6L1089.3 230.6L1089.8 230.6L1090.3 230.6L1090.8 230.6L1091.4 230.6L1091.9 230.6L1092.4 230.6L1092.9 230.6L1093.4 230.6L1094.0 230.6L1094.5 230.6L1095.0 230.6L1095.5 230.6L1096.0 230.6L1096.6 230.6L1097.1 230.6L1097.6 230.6L1098.1 230.6L1098.6 230.6L1099.2 230.6L1099.7 230.6L1100.2 230.6L1100.7 230.6L1101.2 230.6L1101.8 230.6L1102.3 230.6L1102.8 230.6L1103.3 230.6L1103.8 230.6L1104.4 230.6L1104.9 230.6L1105.4 230.6L1105.9 230.6L1106.4 230.6L1107.0 230.6L1107.5 230.6L1108.0 230.6L1108.5 230.6L1109.0 230.6L1109.6 230.6L1110.1 230.6L1110.6 230.6L1111.1 230.6L1111.6 230.6L1112.2 230.6L1112.7 230.6L1113.2 230.6L1113.7 230.6L1114.2 230.6L1114.8 230.6L1115.3 230.6L1115.8 230.6L1116.3 230.6L1116.8 230.6L1117.4 230.6L1117.9 230.6L1118.4 230.6L1118.9 230.6L1119.4 230.6L1120.0 230.6L1120.5 230.6L1121.0 230.6L1121.5 230.6L1122.0 230.6L1122.6 230.6L1123.1 230.6L1123.6 230.6L1124.1 230.6L1124.6 230.6L1125.2 230.6L1125.7 230.6L1126.2 230.6L1126.7 230.6L1127.2 230.6L1127.8 230.6L1128.3 230.6L1128.8 230.6L1129.3 230.6L1129.8 230.6L1130.4 230.6L1130.9 230.6L1131.4 230.6L1131.9 230.6L1132.4 230.6L1133.0 230.6L1133.5 230.6L1134.0 230.6L1134.5 230.6L1135.0 230.6L1135.6 230.6L1136.1 230.6L1136.6 230.6L1137.1 230.6L1137.6 230.6L1138.2 230.6L1138.7 230.6L1139.2 230.6L1139.7 230.6L1140.2 230.6L1140.8 230.6L1141.3 230.6L1141.8 230.6L1142.3 230.6L1142.8 230.6L1143.4 230.6L1143.9 230.6L1144.4 230.6L1144.9 230.6L1145.4 230.6L1146.0 230.6L1146.5 230.6L1147.0 230.6L1147.5 230.6L1148.0 230.6L1148.6 230.6L1149.1 230.6L1149.6 230.6L1150.1 230.6L1150.6 230.6L1151.2 230.6L1151.7 230.6L1152.2 230.6L1152.7 230.6L1153.2 230.6L1153.8 230.6L1154.3 230.6L1154.8 230.6L1155.3 230.6L1155.8 230.6L1156.4 230.6L1156.9 230.6L1157.4 230.6L1157.9 230.6L1158.4 230.6L1159.0 230.6L1159.5 230.6L1160.0 230.6L1160.5 230.6L1161.0 230.6L1161.6 230.6L1162.1 230.6L1162.6 230.6L1163.1 230.6L1163.6 230.6L1164.2 230.6L1164.7 230.6L1165.2 230.6L1165.7 230.6L1166.2 230.6L1166.8 230.6L1167.3 230.6L1167.8 230.6L1168.3 230.6L1168.8 230.6L1169.4 230.6L1169.9 230.6L1170.4 230.6L1170.9 230.6L1171.4 230.6L1172.0 230.6L1172.5 230.6L1173.0 230.6L1173.5 230.6L1174.0 230.6L1174.6 230.6L1175.1 230.6L1175.6 230.6L1176.1 230.6L1176.6 230.6L1177.2 230.6L1177.7 230.6L1178.2 230.6L1178.7 230.6L1179.2 230.6L1179.8 230.6L1180.3 230.6L1180.8 230.6L1181.3 230.6L1181.8 230.6L1182.4 230.6L1182.9 230.6L1183.4 230.6L1183.9 230.6L1184.4 230.6L1185.0 230.6L1185.5 230.6L1186.0 230.6L1186.5 230.6L1187.0 230.6L1187.6 230.6L1188.1 230.6L1188.6 230.6L1189.1 230.6L1189.6 230.6L1190.2 230.6L1190.7 230.6L1191.2 230.6L1191.7 230.6L1192.2 230.6L1192.8 230.6L1193.3 230.6L1193.8 230.6L1194.3 230.6L1194.8 230.6L1195.4 230.6L1195.9 230.6L1196.4 230.6L1196.9 230.6L1197.4 230.6L1198.0 230.6L1198.5 230.6L1199.0 230.6L1199.5 230.6L1200.0 230.6L1200.6 230.6L1201.1 230.6L1201.6 230.6L1202.1 230.6L1202.6 230.6L1203.2 230.6L1203.7 230.6L1204.2 230.6L1204.7 230.6L1205.2 230.6L1205.8 230.6L1206.3 230.6L1206.8 230.6L1207.3 230.6L1207.8 230.6L1208.4 230.6L1208.9 230.6L1209.4 230.6L1209.9 230.6L1210.4 230.6L1211.0 230.6L1211.5 230.6L1212.0 230.6L1212.5 230.6L1213.0 230.6L1213.6 230.6L1214.1 230.6L1214.6 230.6L1215.1 230.6L1215.6 230.6L1216.2 230.6L1216.7 230.6L1217.2 230.6L1217.7 230.6L1218.2 230.6L1218.8 230.6L1219.3 230.6L1219.8 230.6L1220.3 230.6L1220.8 230.6L1221.4 230.6L1221.9 230.6L1222.4 230.6L1222.9 230.6L1223.4 230.6L1224.0 230.6L1224.5 230.6L1225.0 230.6L1225.5 230.6L1390.1 230.6" fill="none" stroke="#0000ff" stroke-width="7.4" stroke-linejoin="round" stroke-linecap="butt"/>
<path d="M871.9 230.6L872.4 230.6L872.9 230.6L873.5 230.6L874.0 230.6L874.5 230.6L875.0 230.6L875.5 230.6L876.1 230.6L876.6 230.6L877.1 230.6L877.6 230.6L878.1 230.6L878.7 230.6L879.2 230.6L879.7 230.6L880.2 230.6L880.7 230.6L881.3 230.6L881.8 230.6L882.3 230.6L882.8 230.6L883.3 230.6L883.9 230.6L884.4 230.6L884.9 230.6L885.4 230.6L885.9 230.6L886.5 230.6L887.0 230.6L887.5 230.6L888.0 230.6L888.5 230.6L889.1 230.6L889.6 230.6L890.1 230.6L890.6 230.6L891.1 230.6L891.7 230.6L892.2 230.6L892.7 230.6L893.2 230.6L893.7 230.6L894.3 230.6L894.8 230.6L895.3 230.6L895.8 230.6L896.3 230.6L896.9 230.6L897.4 230.6L897.9 230.6L898.4 230.6L898.9 230.6L899.5 230.6L900.0 230.6L900.5 230.6L901.0 230.6L901.5 230.6L902.1 230.6L902.6 230.6L903.1 230.6L903.6 230.6L904.1 230.6L904.7 230.6L905.2 230.6L905.7 230.6L906.2 230.6L906.7 230.6L907.3 230.6L907.8 230.6L908.3 230.6L908.8 230.6L909.3 230.6L909.9 230.6L910.4 230.6L910.9 230.6L911.4 230.5L911.9 230.4L912.5 230.2L913.0 230.0L913.5 229.7L914.0 229.4L914.5 229.1L915.1 228.8L915.6 228.5L916.1 228.2L916.6 227.9L917.1 227.6L917.7 227.4L918.2 227.2L918.7 227.1L919.2 227.0L919.7 227.0L920.3 227.1L920.8 227.3L921.3 227.6L921.8 227.9L922.3 228.2L922.9 228.6L923.4 229.1L923.9 229.5L924.4 230.0L924.9 230.5L925.5 231.0L926.0 231.6L926.5 232.4L927.0 233.4L927.5 234.4L928.1 235.5L928.6 236.7L929.1 237.8L929.6 238.9L930.1 240.0L930.7 240.9L931.2 241.8L931.7 242.5L932.2 243.0L932.7 243.3L933.3 243.4L933.8 243.2L934.3 242.9L934.8 242.4L935.3 241.8L935.9 241.0L936.4 240.2L936.9 239.3L937.4 238.3L937.9 237.2L938.5 236.1L939.0 235.0L939.5 234.0L940.0 232.9L940.5 231.9L941.1 230.9L941.6 230.0L942.1 229.0L942.6 227.9L943.1 226.6L943.7 225.4L944.2 224.1L944.7 222.9L945.2 221.6L945.7 220.5L946.3 219.4L946.8 218.5L947.3 217.7L947.8 217.1L948.3 216.7L948.9 216.5L949.4 216.5L949.9 216.7L950.4 217.0L950.9 217.4L951.5 217.9L952.0 218.5L952.5 219.2L953.0 220.0L953.5 220.8L954.1 221.7L954.6 222.6L955.1 223.5L955.6 224.5L956.1 225.5L956.7 226.5L957.2 227.5L957.7 228.5L958.2 229.5L958.7 230.4L959.3 231.4L959.8 232.6L960.3 233.9L960.8 235.3L961.3 236.8L961.9 238.3L962.4 239.9L962.9 241.4L963.4 242.9L963.9 244.3L964.5 245.5L965.0 246.6L965.5 247.4L966.0 248.1L966.5 248.4L967.1 248.5L967.6 248.3L968.1 247.9L968.6 247.4L969.1 246.7L969.7 245.8L970.2 244.8L970.7 243.7L971.2 242.4L971.7 241.1L972.3 239.6L972.8 238.0L973.3 236.4L973.8 234.6L974.3 232.8L974.9 231.0L975.4 228.6L975.9 224.9L976.4 220.1L976.9 214.5L977.5 208.2L978.0 201.7L978.5 195.1L979.0 188.7L979.5 182.8L980.1 177.6L980.6 173.4L981.1 170.5L981.6 169.1L982.1 169.5L982.7 171.2L983.2 174.1L983.7 178.1L984.2 183.0L984.7 188.5L985.3 194.5L985.8 200.9L986.3 207.3L986.8 213.7L987.3 219.9L987.9 225.6L988.4 230.7L988.9 235.8L989.4 241.4L989.9 247.5L990.5 253.7L991.0 259.9L991.5 266.0L992.0 271.8L992.5 277.2L993.1 281.9L993.6 285.8L994.1 288.7L994.6 290.5L995.1 291.1L995.7 290.7L996.2 289.7L996.7 288.2L997.2 286.3L997.7 283.9L998.3 281.2L998.8 278.1L999.3 274.8L999.8 271.2L1000.3 267.6L1000.9 263.8L1001.4 259.9L1001.9 256.1L1002.4 252.3L1002.9 248.7L1003.5 245.1L1004.0 241.8L1004.5 238.8L1005.0 236.1L1005.5 233.8L1006.1 231.8L1006.6 230.4L1007.1 229.1L1007.6 227.8L1008.1 226.6L1008.7 225.3L1009.2 224.1L1009.7 223.0L1010.2 221.8L1010.7 220.7L1011.3 219.6L1011.8 218.6L1012.3 217.6L1012.8 216.7L1013.3 215.8L1013.9 215.0L1014.4 214.3L1014.9 213.6L1015.4 213.1L1015.9 212.6L1016.5 212.1L1017.0 211.8L1017.5 211.6L1018.0 211.4L1018.5 211.4L1019.1 211.7L1019.6 212.5L1020.1 213.7L1020.6 215.2L1021.1 216.9L1021.7 218.9L1022.2 220.9L1022.7 223.0L1023.2 225.0L1023.8 226.8L1024.3 228.5L1024.8 229.9L1025.3 231.0L1025.8 232.1L1026.4 233.2L1026.9 234.2L1027.4 235.3L1027.9 236.3L1028.4 237.2L1029.0 238.1L1029.5 238.9L1030.0 239.6L1030.5 240.1L1031.0 240.5L1031.6 240.8L1032.1 240.8L1032.6 240.7L1033.1 240.3L1033.6 239.7L1034.2 238.9L1034.7 238.0L1035.2 236.9L1035.7 235.9L1036.2 234.7L1036.8 233.6L1037.3 232.5L1037.8 231.5L1038.3 230.6L1038.8 229.7L1039.4 228.7L1039.9 227.7L1040.4 226.6L1040.9 225.5L1041.4 224.4L1042.0 223.4L1042.5 222.6L1043.0 221.8L1043.5 221.3L1044.0 221.0L1044.6 220.9L1045.1 221.1L1045.6 221.5L1046.1 222.1L1046.6 222.9L1047.2 223.8L1047.7 224.8L1048.2 225.9L1048.7 227.1L1049.2 228.2L1049.8 229.4L1050.3 230.5L1050.8 231.8L1051.3 233.3L1051.8 235.2L1052.4 237.1L1052.9 239.2L1053.4 241.3L1053.9 243.4L1054.4 245.3L1055.0 247.0L1055.5 248.5L1056.0 249.5L1056.5 250.2L1057.0 250.4L1057.6 249.9L1058.1 248.9L1058.6 247.4L1059.1 245.5L1059.6 243.3L1060.2 240.9L1060.7 238.5L1061.2 236.0L1061.7 233.6L1062.2 231.4L1062.8 229.3L1063.3 226.9L1063.8 224.3L1064.3 221.5L1064.8 218.7L1065.4 216.1L1065.9 213.7L1066.4 211.6L1066.9 210.1L1067.4 209.1L1068.0 208.9L1068.5 209.4L1069.0 210.7L1069.5 212.4L1070.0 214.6L1070.6 217.1L1071.1 219.7L1071.6 222.4L1072.1 225.0L1072.6 227.5L1073.2 229.6L1073.7 231.4L1074.2 233.3L1074.7 235.2L1075.2 237.2L1075.8 239.1L1076.3 241.0L1076.8 242.6L1077.3 244.0L1077.8 245.1L1078.4 245.7L1078.9 246.0L1079.4 245.6L1079.9 244.6L1080.4 243.2L1081.0 241.4L1081.5 239.4L1082.0 237.3L1082.5 235.2L1083.0 233.3L1083.6 231.6L1084.1 230.3L1084.6 229.1L1085.1 227.8L1085.6 226.5L1086.2 225.2L1086.7 224.1L1087.2 223.0L1087.7 222.1L1088.2 221.5L1088.8 221.0L1089.3 220.9L1089.8 221.1L1090.3 221.6L1090.8 222.4L1091.4 223.4L1091.9 224.5L1092.4 225.8L1092.9 227.0L1093.4 228.2L1094.0 229.4L1094.5 230.3L1095.0 231.2L1095.5 232.1L1096.0 233.0L1096.6 234.0L1097.1 234.9L1097.6 235.8L1098.1 236.7L1098.6 237.4L1099.2 238.0L1099.7 238.4L1100.2 238.7L1100.7 238.7L1101.2 238.4L1101.8 237.7L1102.3 236.7L1102.8 235.6L1103.3 234.4L1103.8 233.2L1104.4 232.1L1104.9 231.2L1105.4 230.6L1105.9 230.1L1106.4 229.6L1107.0 229.1L1107.5 228.6L1108.0 228.2L1108.5 227.8L1109.0 227.5L1109.6 227.2L1110.1 227.0L1110.6 226.9L1111.1 226.9L1111.6 227.1L1112.2 227.4L1112.7 227.8L1113.2 228.3L1113.7 228.8L1114.2 229.3L1114.8 229.7L1115.3 230.1L1115.8 230.5L1116.3 230.6L1116.8 230.8L1117.4 230.9L1117.9 231.0L1118.4 231.1L1118.9 231.1L1119.4 231.2L1120.0 231.2L1120.5 231.2L1121.0 231.2L1121.5 231.1L1122.0 231.0L1122.6 230.9L1123.1 230.8L1123.6 230.7L1124.1 230.6L1124.6 230.4L1125.2 230.3L1125.7 230.1L1126.2 230.0L1126.7 229.8L1127.2 229.7L1127.8 229.6L1128.3 229.6L1128.8 229.6L1129.3 229.7L1129.8 229.8L1130.4 229.9L1130.9 230.1L1131.4 230.2L1131.9 230.4L1132.4 230.5L1133.0 230.7L1133.5 230.8L1134.0 231.0L1134.5 231.2L1135.0 231.4L1135.6 231.6L1136.1 231.7L1136.6 231.9L1137.1 232.0L1137.6 232.1L1138.2 232.2L1138.7 232.2L1139.2 232.2L1139.7 232.2L1140.2 232.1L1140.8 232.1L1141.3 232.0L1141.8 231.9L1142.3 231.8L1142.8 231.8L1143.4 231.7L1143.9 231.5L1144.4 231.4L1144.9 231.3L1145.4 231.2L1146.0 231.1L1146.5 231.0L1147.0 230.9L1147.5 230.9L1148.0 230.8L1148.6 230.7L1149.1 230.7L1149.6 230.6L1150.1 230.6L1150.6 230.6L1151.2 230.6L1151.7 230.5L1152.2 230.5L1152.7 230.5L1153.2 230.5L1153.8 230.5L1154.3 230.5L1154.8 230.4L1155.3 230.4L1155.8 230.4L1156.4 230.4L1156.9 230.4L1157.4 230.4L1157.9 230.3L1158.4 230.3L1159.0 230.3L1159.5 230.3L1160.0 230.3L1160.5 230.3L1161.0 230.3L1161.6 230.3L1162.1 230.3L1162.6 230.3L1163.1 230.2L1163.6 230.2L1164.2 230.2L1164.7 230.2L1165.2 230.2L1165.7 230.2L1166.2 230.2L1166.8 230.2L1167.3 230.2L1167.8 230.2L1168.3 230.3L1168.8 230.3L1169.4 230.3L1169.9 230.3L1170.4 230.4L1170.9 230.4L1171.4 230.4L1172.0 230.5L1172.5 230.5L1173.0 230.5L1173.5 230.6L1174.0 230.6L1174.6 230.7L1175.1 230.7L1175.6 230.7L1176.1 230.8L1176.6 230.8L1177.2 230.8L1177.7 230.8L1178.2 230.8L1178.7 230.8L1179.2 230.8L1179.8 230.8L1180.3 230.8L1180.8 230.8L1181.3 230.8L1181.8 230.7L1182.4 230.7L1182.9 230.7L1183.4 230.7L1183.9 230.6L1184.4 230.6L1185.0 230.6L1185.5 230.5L1186.0 230.5L1186.5 230.5L1187.0 230.4L1187.6 230.4L1188.1 230.4L1188.6 230.4L1189.1 230.3L1189.6 230.3L1190.2 230.3L1190.7 230.3L1191.2 230.3L1191.7 230.3L1192.2 230.3L1192.8 230.4L1193.3 230.4L1193.8 230.4L1194.3 230.4L1194.8 230.4L1195.4 230.4L1195.9 230.5L1196.4 230.5L1196.9 230.5L1197.4 230.5L1198.0 230.5L1198.5 230.6L1199.0 230.6L1199.5 230.6L1200.0 230.6L1200.6 230.6L1201.1 230.6L1201.6 230.6L1202.1 230.6L1202.6 230.6L1203.2 230.6L1203.7 230.6L1204.2 230.6L1204.7 230.6L1205.2 230.6L1205.8 230.6L1206.3 230.6L1206.8 230.6L1207.3 230.6L1207.8 230.6L1208.4 230.6L1208.9 230.6L1209.4 230.6L1209.9 230.6L1210.4 230.6L1211.0 230.6L1211.5 230.6L1212.0 230.6L1212.5 230.6L1213.0 230.6L1213.6 230.6L1214.1 230.6L1214.6 230.6L1215.1 230.6L1215.6 230.6L1216.2 230.6L1216.7 230.6L1217.2 230.6L1217.7 230.6L1218.2 230.6L1218.8 230.6L1219.3 230.6L1219.8 230.6L1220.3 230.6L1220.8 230.6L1221.4 230.6L1221.9 230.6L1222.4 230.6L1222.9 230.6L1223.4 230.6L1224.0 230.6L1224.5 230.6L1225.0 230.6L1225.5 230.6L1390.1 230.6" fill="none" stroke="#ff0000" stroke-width="7.4" stroke-linejoin="round" stroke-linecap="butt"/>
</svg>
</body></html>
